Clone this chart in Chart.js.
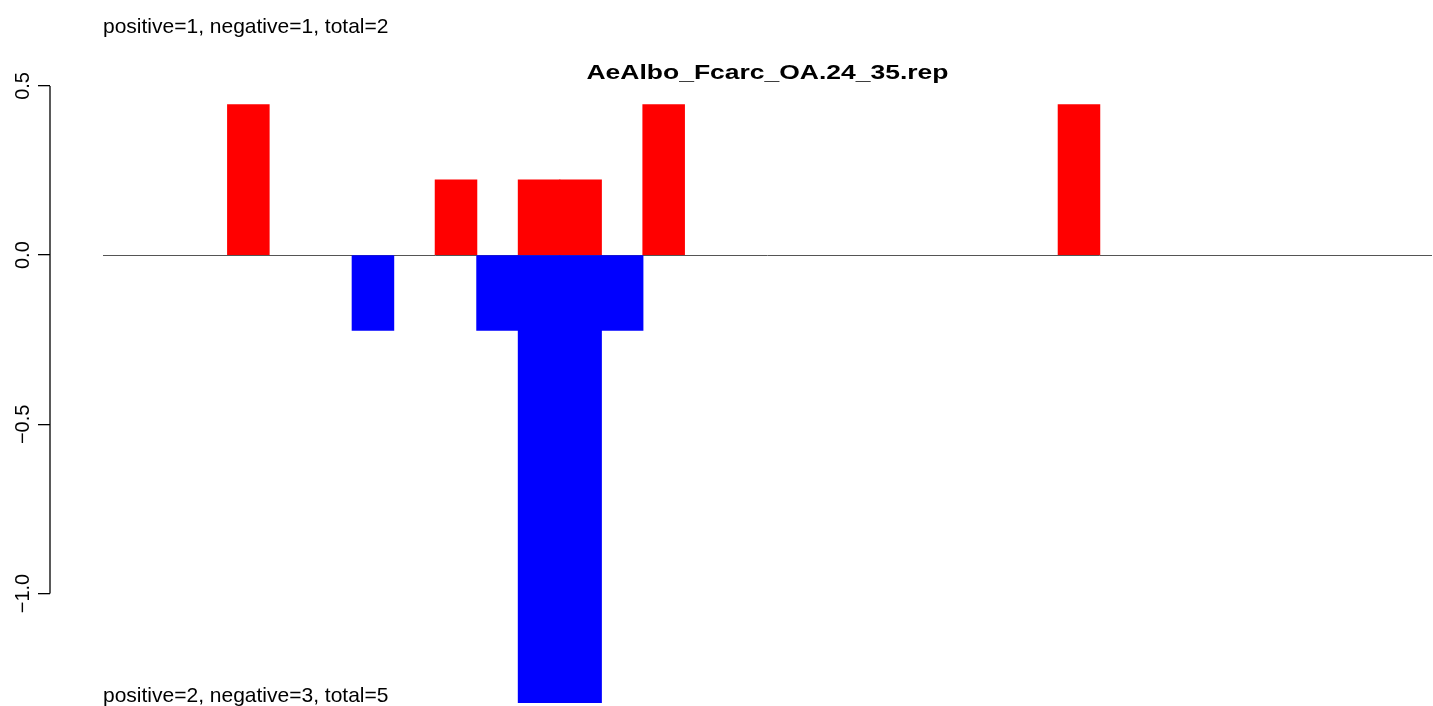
<!DOCTYPE html>
<html>
<head>
<meta charset="utf-8">
<script src="https://cdn.jsdelivr.net/npm/chart.js@4/dist/chart.umd.min.js"></script>
<style>
html, body { margin: 0; padding: 0; background: #ffffff; overflow: hidden; }
#wrap { width: 1433px; height: 706px; position: relative; }
</style>
</head>
<body>
<div id="wrap"><canvas id="c" width="1433" height="706"></canvas></div>
<script>
// ---- data ----
const binIndex = [1, 2, 3, 4, 5, 6, 7, 8, 9, 10, 11, 12, 13, 14, 15, 16,
                  17, 18, 19, 20, 21, 22, 23, 24, 25, 26, 27, 28, 29, 30, 31, 32];
const positiveValues = [null, null, null, 0.444, null, null, null, null, 0.222, null, 0.222, 0.222, null, 0.444, null, null,
                        null, null, null, null, null, null, null, 0.444, null, null, null, null, null, null, null, null];
const negativeValues = [null, null, null, null, null, null, -0.222, null, null, -0.222, -1.333, -1.333, -0.222, null, null, null,
                        null, null, null, null, null, null, null, null, null, null, null, null, null, null, null, null];
const yTickValues = [-1, -0.5, 0, 0.5];
const yTickLabels = ['\u22121.0', '\u22120.5', '0.0', '0.5'];
const titleText = 'AeAlbo_Fcarc_OA.24_35.rep';
const topNote = 'positive=1, negative=1, total=2';
const bottomNote = 'positive=2, negative=3, total=5';

const FONT = '"Liberation Sans", Arial, Helvetica, sans-serif';

function toPoints(vals) {
  return binIndex.map((b, i) => ({ x: b - 0.5, y: vals[i] }));
}

const annotations = {
  id: 'rstyle',
  beforeDatasetsDraw(chart) {
    const { ctx, scales: { x, y } } = chart;
    ctx.save();
    ctx.strokeStyle = '#555555';
    ctx.lineWidth = 1;
    const y0 = Math.round(y.getPixelForValue(0)) + 0.5;
    ctx.beginPath();
    ctx.moveTo(x.getPixelForValue(0), y0);
    ctx.lineTo(x.getPixelForValue(binIndex.length), y0);
    ctx.stroke();
    ctx.restore();
  },
  afterDraw(chart) {
    const { ctx, scales: { x, y } } = chart;
    ctx.save();
    // y axis line, from first to last tick (R style)
    ctx.strokeStyle = '#000000';
    ctx.lineWidth = 1.3;
    const ax = chart.chartArea.left;
    ctx.beginPath();
    ctx.moveTo(ax, y.getPixelForValue(yTickValues[0]));
    ctx.lineTo(ax, y.getPixelForValue(yTickValues[yTickValues.length - 1]));
    ctx.stroke();

    // notes
    ctx.fillStyle = '#000000';
    ctx.textAlign = 'left';
    ctx.textBaseline = 'alphabetic';
    ctx.font = '21px ' + FONT;
    const left = x.getPixelForValue(0);
    ctx.fillText(topNote, left, 33);
    ctx.fillText(bottomNote, left, 702);

    // title, centred over the bars
    ctx.font = 'bold 20px ' + FONT;
    const cx = (x.getPixelForValue(0) + x.getPixelForValue(binIndex.length)) / 2;
    const w = ctx.measureText(titleText).width;
    const sx = 362 / w;
    ctx.translate(cx, 78.5);
    ctx.scale(sx, 1);
    ctx.textAlign = 'center';
    ctx.fillText(titleText, 0, 0);
    ctx.restore();
  }
};

new Chart(document.getElementById('c'), {
  type: 'bar',
  data: {
    datasets: [
      { label: 'positive', data: toPoints(positiveValues), backgroundColor: '#ff0000', borderWidth: 0, inflateAmount: 0.5 },
      { label: 'negative', data: toPoints(negativeValues), backgroundColor: '#0000ff', borderWidth: 0, inflateAmount: 0.5 }
    ]
  },
  options: {
    responsive: false,
    devicePixelRatio: 1,
    animation: false,
    events: [],
    layout: { padding: { top: 69, bottom: 3, left: 0, right: 1 } },
    datasets: { bar: { categoryPercentage: 1, barPercentage: 1 } },
    plugins: { legend: { display: false }, tooltip: { enabled: false }, title: { display: false } },
    scales: {
      x: {
        type: 'linear',
        stacked: true,
        display: false,
        offset: false,
        min: -1.276,
        max: 32
      },
      y: {
        stacked: true,
        min: -1.3235,
        max: 0.55,
        afterFit(scale) { scale.width = 50; scale.paddingTop = 0; scale.paddingBottom = 0; },
        afterBuildTicks(scale) { scale.ticks = yTickValues.map(v => ({ value: v })); },
        border: { display: false },
        grid: { display: true, drawOnChartArea: false, drawTicks: true, tickLength: 12, color: '#000000', lineWidth: 1.3 },
        ticks: {
          minRotation: 90,
          maxRotation: 90,
          crossAlign: 'center',
          padding: -5,
          color: '#000000',
          font: { family: FONT, size: 20 },
          callback(value) {
            const i = yTickValues.indexOf(value);
            return i >= 0 ? yTickLabels[i] : '';
          }
        }
      }
    }
  },
  plugins: [annotations]
});
</script>
</body>
</html>
